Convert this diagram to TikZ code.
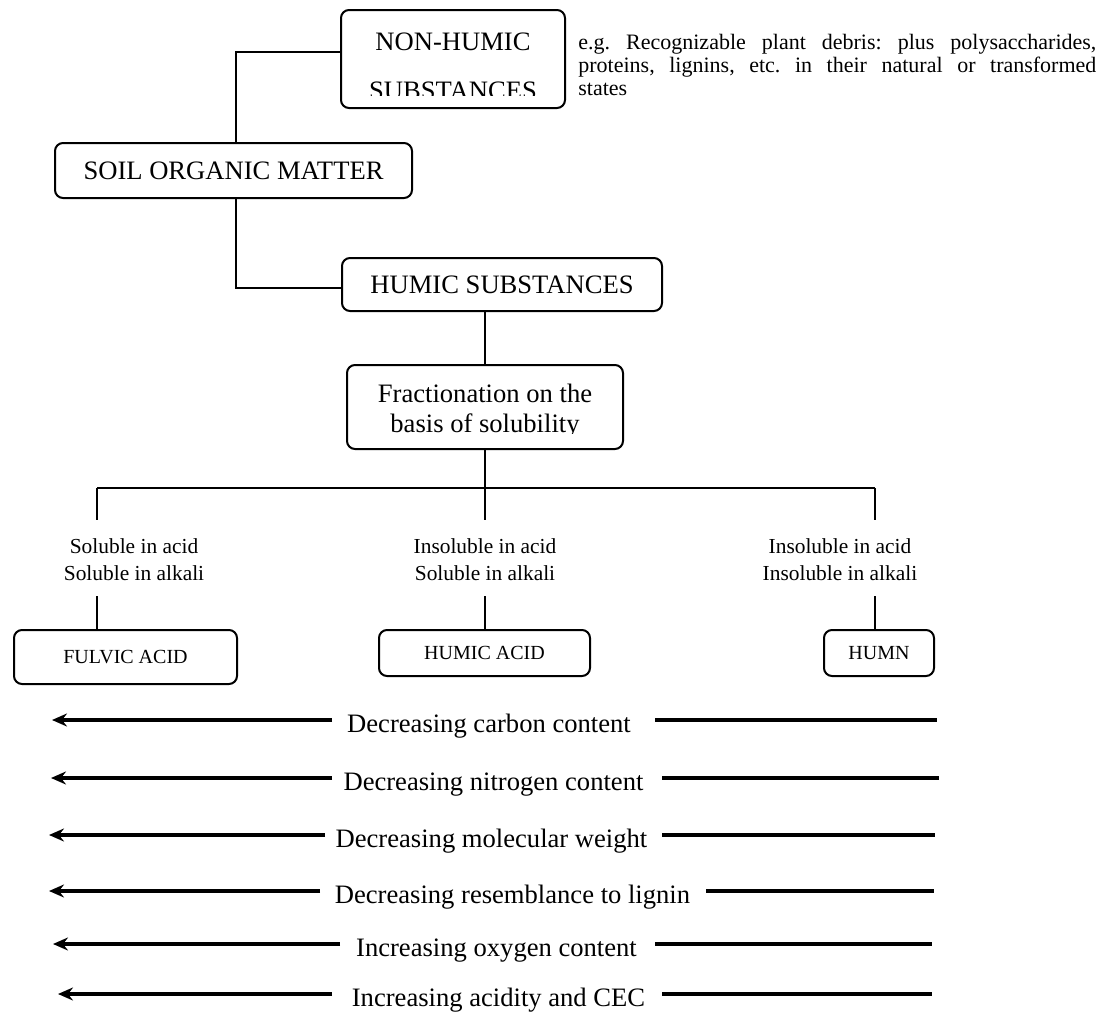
\documentclass[tikz,border=0pt]{standalone}
\usepackage{fontspec}
\setmainfont{Liberation Serif}
\usetikzlibrary{arrows.meta}
\frenchspacing

\tikzset{
  box/.style={draw, line width=1pt, rounded corners=4pt, inner sep=0pt},
  link/.style={line width=0.9pt},
  trend/.style={line width=2pt, -{Stealth[length=7.5pt, width=6.5pt, inset=2.5pt]}},
  trendline/.style={line width=2pt},
  bigtext/.style={font=\fontsize{13.3}{16}\selectfont},
  labeltext/.style={font=\fontsize{10.7}{13}\selectfont},
  acidtext/.style={font=\fontsize{10}{12}\selectfont},
}

\begin{document}
\begin{tikzpicture}[x=0.5pt, y=-0.5pt]
  \useasboundingbox (0,0) rectangle (1110,1012);

  \node[box, minimum width=112pt, minimum height=49pt] (nonhumic) at (453,59) {};
  \begin{scope}
    \clip (341,10) rectangle (565,95);
    \node[bigtext, anchor=base] (nonhumicA) at (453,50) {NON-HUMIC};
    \node[bigtext, anchor=base] (nonhumicB) at (453,99) {SUBSTANCES};
  \end{scope}
  \node[anchor=north west, inner sep=0pt, text width=259pt, align=justify,
        font=\fontsize{11}{11.5}\selectfont] (debris) at (578,34)
    {e.g. Recognizable plant debris: plus polysaccharides,\linebreak
     proteins, lignins, etc. in their natural or transformed\linebreak states};

  \node[box, bigtext, minimum width=178.5pt, minimum height=27.5pt] (soil) at (233.5,170.5) {SOIL ORGANIC MATTER};
  \node[box, bigtext, minimum width=160pt, minimum height=26.5pt] (humic) at (502,284.5) {HUMIC SUBSTANCES};

  \node[box, minimum width=138pt, minimum height=42pt] (frac) at (485,407) {};
  \begin{scope}
    \clip (347,365) rectangle (623,433);
    \node[bigtext, anchor=base] (fracA) at (485,402) {Fractionation on the};
    \node[bigtext, anchor=base] (fracB) at (485,432) {basis of solubility};
  \end{scope}

  % links
  \draw[link] ([yshift=3.5pt]nonhumic.west) -| ([xshift=1.25pt]soil.north);
  \draw[link] ([xshift=1.25pt]soil.south) |- ([yshift=-1.75pt]humic.west);
  \draw[link] (humic.south -| frac.north) -- (frac.north);

  \coordinate (split) at (485,488);
  \coordinate (branchL) at (97,488);
  \coordinate (branchR) at (875,488);
  \coordinate (stubL) at (97,520);
  \coordinate (stubM) at (485,520);
  \coordinate (stubR) at (875,520);
  \coordinate (dropL) at (97,596);
  \coordinate (dropM) at (485,596);
  \coordinate (dropR) at (875,596);
  \draw[link] (frac.south) -- (split);
  \draw[link] (branchL) -- (branchR);
  \draw[link] (branchL) -- (stubL);
  \draw[link] (split) -- (stubM);
  \draw[link] (branchR) -- (stubR);

  \node[labeltext, anchor=base] (solA) at (134,553) {Soluble in acid};
  \node[labeltext, anchor=base] (solB) at (134,580) {Soluble in alkali};
  \node[labeltext, anchor=base] (insolA) at (485,553) {Insoluble in acid};
  \node[labeltext, anchor=base] (insolB) at (485,580) {Soluble in alkali};
  \node[labeltext, anchor=base] (insol2A) at (840,553) {Insoluble in acid};
  \node[labeltext, anchor=base] (insol2B) at (840,580) {Insoluble in alkali};

  \node[box, acidtext, minimum width=111.5pt, minimum height=27pt] (fulvic) at (125.5,657) {FULVIC ACID};
  \node[box, acidtext, minimum width=105.5pt, minimum height=23pt] (humicacid) at (484.5,653) {HUMIC ACID};
  \node[box, acidtext, minimum width=55pt, minimum height=23pt] (humn) at (879,653) {HUMN};
  \draw[link] (dropL) -- (dropL |- fulvic.north);
  \draw[link] (dropM) -- (dropM |- humicacid.north);
  \draw[link] (dropR) -- (dropR |- humn.north);

  % trends
  \node[bigtext, anchor=base] (carbon) at (489,732) {Decreasing carbon content};
  \coordinate (carbonA) at (332,720);
  \coordinate (carbonB) at (52,720);
  \coordinate (carbonC) at (655,720);
  \coordinate (carbonD) at (937,720);
  \draw[trend] (carbonA) -- (carbonB);
  \draw[trendline] (carbonC) -- (carbonD);

  \node[bigtext, anchor=base] (nitrogen) at (493.5,790) {Decreasing nitrogen content};
  \coordinate (nitrogenA) at (332,778);
  \coordinate (nitrogenB) at (51,778);
  \coordinate (nitrogenC) at (662,778);
  \coordinate (nitrogenD) at (939,778);
  \draw[trend] (nitrogenA) -- (nitrogenB);
  \draw[trendline] (nitrogenC) -- (nitrogenD);

  \node[bigtext, anchor=base] (molweight) at (491.5,847) {Decreasing molecular weight};
  \coordinate (molweightA) at (325,835);
  \coordinate (molweightB) at (49,835);
  \coordinate (molweightC) at (662,835);
  \coordinate (molweightD) at (935,835);
  \draw[trend] (molweightA) -- (molweightB);
  \draw[trendline] (molweightC) -- (molweightD);

  \node[bigtext, anchor=base] (lignin) at (512.5,903) {Decreasing resemblance to lignin};
  \coordinate (ligninA) at (320,891);
  \coordinate (ligninB) at (49,891);
  \coordinate (ligninC) at (706,891);
  \coordinate (ligninD) at (934,891);
  \draw[trend] (ligninA) -- (ligninB);
  \draw[trendline] (ligninC) -- (ligninD);

  \node[bigtext, anchor=base] (oxygen) at (496.5,956) {Increasing oxygen content};
  \coordinate (oxygenA) at (340,944);
  \coordinate (oxygenB) at (53,944);
  \coordinate (oxygenC) at (655,944);
  \coordinate (oxygenD) at (932,944);
  \draw[trend] (oxygenA) -- (oxygenB);
  \draw[trendline] (oxygenC) -- (oxygenD);

  \node[bigtext, anchor=base] (acidity) at (498.5,1006) {Increasing acidity and CEC};
  \coordinate (acidityA) at (332,994);
  \coordinate (acidityB) at (58,994);
  \coordinate (acidityC) at (662,994);
  \coordinate (acidityD) at (932,994);
  \draw[trend] (acidityA) -- (acidityB);
  \draw[trendline] (acidityC) -- (acidityD);
\end{tikzpicture}
\end{document}
